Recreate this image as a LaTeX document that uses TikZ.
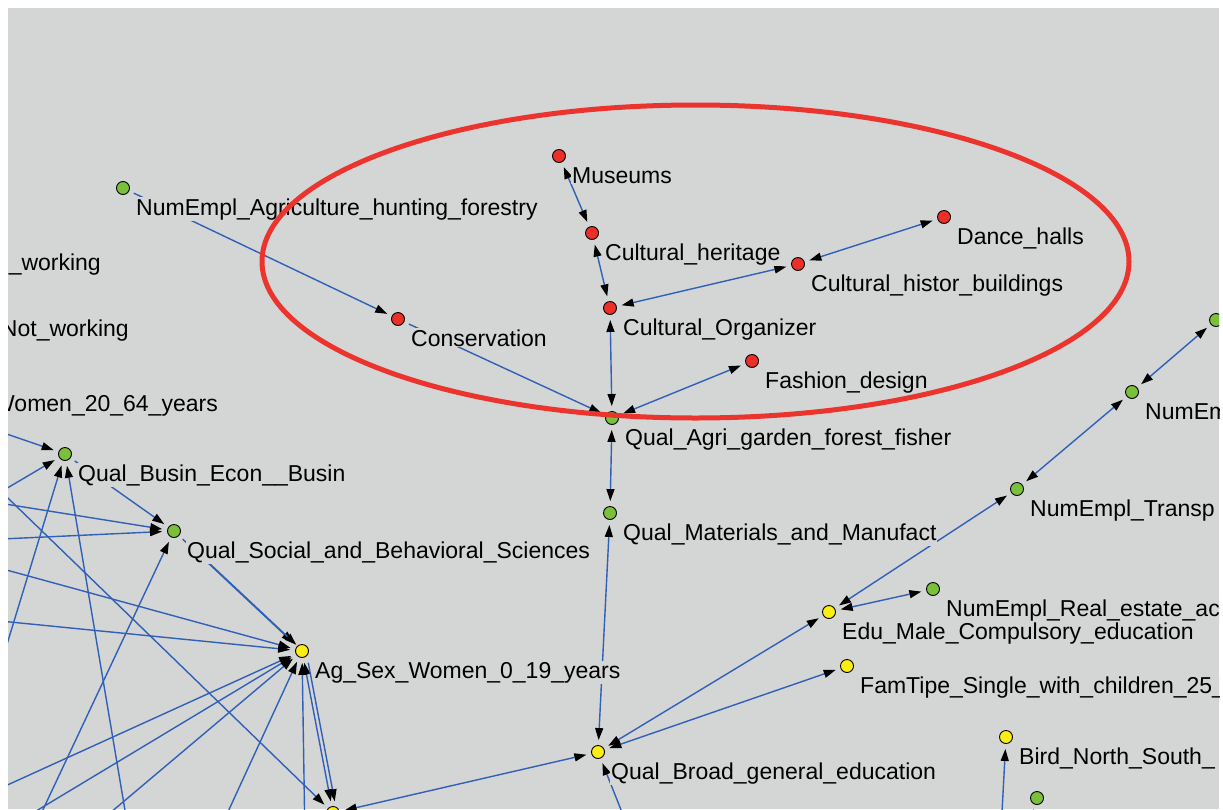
\documentclass[tikz,border=0pt]{standalone}
\usepackage{fontspec}
\setmainfont{Liberation Sans}
\usetikzlibrary{arrows.meta}
\definecolor{canvas}{RGB}{212,213,213}
\definecolor{edgeblue}{RGB}{48,96,184}
\definecolor{nred}{RGB}{236,48,40}
\definecolor{ngreen}{RGB}{122,192,58}
\definecolor{nyellow}{RGB}{250,238,20}
\definecolor{ringred}{RGB}{236,52,46}

\begin{document}
\begin{tikzpicture}[x=1pt, y=-1pt,
  >={Triangle[length=12pt, width=8pt, color=black]},
  vx/.style={circle, fill=#1, draw=black, line width=0.9pt, minimum size=13pt, inner sep=0pt},
  lbl/.style={anchor=base west, fill=canvas, inner sep=1pt, font=\fontsize{23}{26}\selectfont},
  cut/.style={anchor=base east, inner sep=1pt, font=\fontsize{23}{26}\selectfont},
  ln/.style={draw=edgeblue, line width=1.4pt, shorten <=5pt, shorten >=5pt}
]
\useasboundingbox (0,0) rectangle (1223,809);
\fill[white] (0,0) rectangle (1223,809);
\fill[canvas] (8,8) rectangle (1219,809);
\begin{scope}
\clip (8,8) rectangle (1219,809);

\newcommand\vxlist{
  mus/559/156/nred/Museums,
  her/592/233/nred/Cultural\_heritage,
  org/610/308/nred/Cultural\_Organizer,
  his/798/264/nred/Cultural\_histor\_buildings,
  dan/944/217/nred/Dance\_halls,
  con/398/319/nred/Conservation,
  fas/752/361/nred/Fashion\_design,
  nea/123/188/ngreen/NumEmpl\_Agriculture\_hunting\_forestry,
  agr/612/418/ngreen/Qual\_Agri\_garden\_forest\_fisher,
  mat/610/513/ngreen/Qual\_Materials\_and\_Manufact,
  bus/65/454/ngreen/Qual\_Busin\_Econ\_\_Busin,
  soc/174/531/ngreen/Qual\_Social\_and\_Behavioral\_Sciences,
  tra/1017/489/ngreen/NumEmpl\_Transp,
  nem/1132/392/ngreen/NumEm,
  rea/933/589/ngreen/NumEmpl\_Real\_estate\_ac,
  ags/302/651/nyellow/Ag\_Sex\_Women\_0\_19\_years,
  bro/598/752/nyellow/Qual\_Broad\_general\_education,
  edu/829/612/nyellow/Edu\_Male\_Compulsory\_education,
  fam/847/666/nyellow/FamTipe\_Single\_with\_children\_25\_,
  bir/1006/737/nyellow/Bird\_North\_South\_}

% vertices
\foreach \nm/\px/\py/\cl/\tx in \vxlist
  \node[vx=\cl] (\nm) at (\px,\py) {};
\foreach \nm/\px/\py/\cl in {ntr/1216/320/ngreen, qbi/1037/798/ngreen, bot/333/813/nyellow}
  \node[vx=\cl] (\nm) at (\px,\py) {};

% links between visible vertices
\foreach \a/\b in {mus/her, her/org, his/org, dan/his, org/agr, fas/agr, agr/mat, mat/bro,
  edu/bro, fam/bro, edu/rea, edu/tra, tra/nem, nem/ntr, bro/bot, ags/bot}
  \draw[ln, <->] (\a) -- (\b);
\foreach \a/\b in {nea/con, con/agr, bus/soc, soc/ags}
  \draw[ln, ->] (\a) -- (\b);
\draw[ln, ->, transform canvas={shift={(3pt,-2pt)}}] (soc) -- (ags);
\draw[ln, ->, transform canvas={shift={(4pt,0pt)}}] (ags) -- (bot);

% links to vertices outside the view
\foreach \cn/\px/\py/\dst in {w1/-40/418/bus, w2/-30/510/bus, w3/-10/700/bus, w4/130/840/bus,
  w5/-20/500/soc, w6/-20/540/soc, w7/24/850/soc,
  w8/-30/560/ags, w9/-30/618/ags, w10/-30/802/ags, w11/-12/840/ags, w12/78/840/ags,
  w13/215/840/ags, w14/305/840/ags, w15/-20/471/bot,
  w16/637/850/bro, w17/1000/850/bir} {
  \coordinate (\cn) at (\px,\py);
  \draw[ln, ->, shorten <=0pt] (\cn) -- (\dst);
}
\coordinate (w18) at (1025,840);
\draw[ln, shorten <=0pt] (w18) -- (qbi);

% labels
\foreach \nm/\px/\py/\cl/\tx in \vxlist
  \node[lbl] (\nm-l) at (\px+12,\py+27) {\tx};
\node[cut] (cut1) at (102,270) {\_working};
\node[cut] (cut2) at (130,336) {Not\_working};
\node[cut] (cut3) at (219,411) {Women\_20\_64\_years};

\draw[ringred, line width=5pt] (695.5,261.5) ellipse [x radius=433.5, y radius=156.5];
\end{scope}
\end{tikzpicture}
\end{document}
